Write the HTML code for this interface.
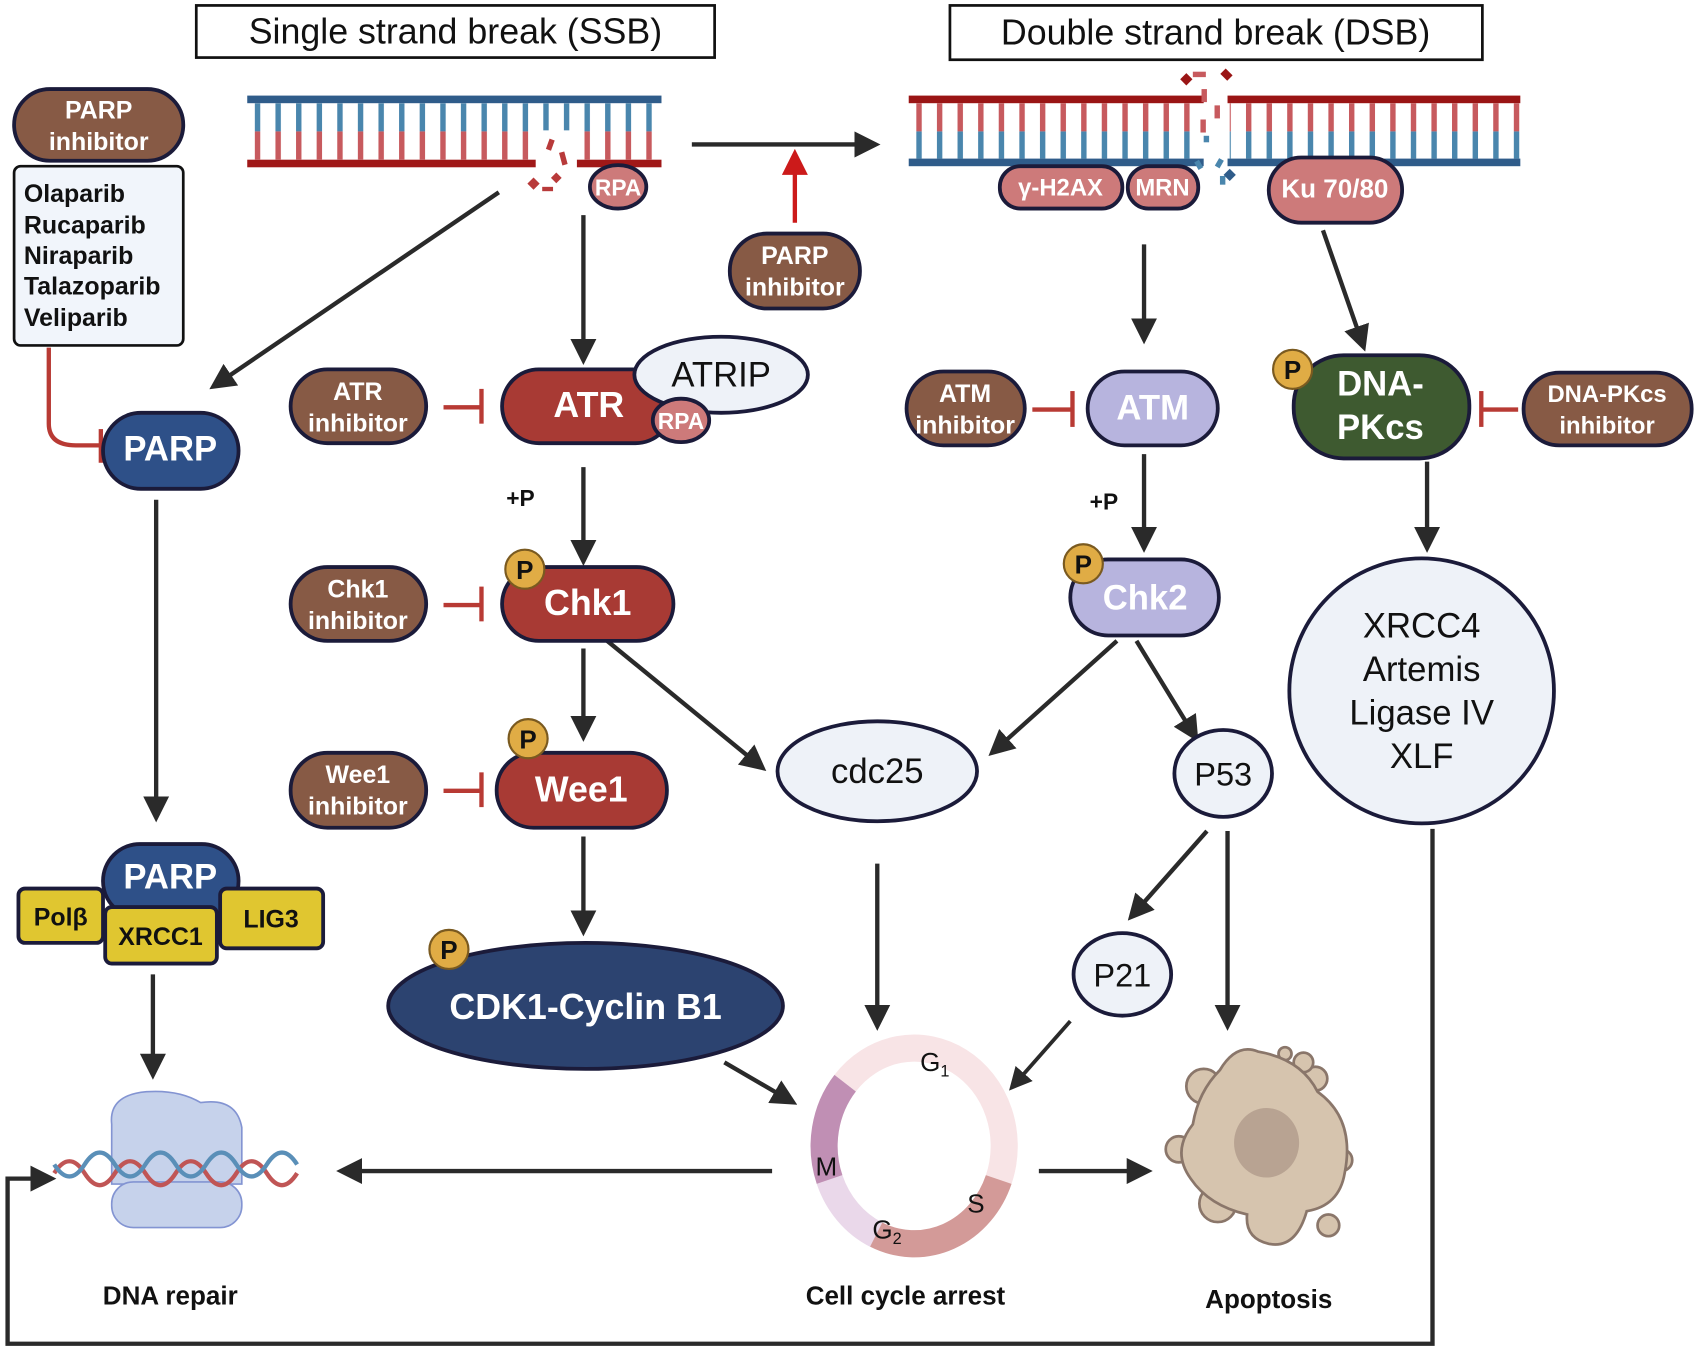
<!DOCTYPE html>
<html><head><meta charset="utf-8"><style>
html,body{margin:0;padding:0;background:#fff;}
svg{display:block;}
text{font-family:"Liberation Sans",sans-serif;}
.w{fill:#fff;font-weight:bold;text-anchor:middle;}
.b{fill:#111;font-weight:bold;text-anchor:middle;}
.n{fill:#111;text-anchor:middle;}
</style></head><body>
<svg width="1696" height="1347" viewBox="0 0 1564 1240" preserveAspectRatio="none" xmlns="http://www.w3.org/2000/svg">
<defs>
<marker id="ah" markerWidth="6" markerHeight="6" refX="4.5" refY="3" orient="auto" markerUnits="strokeWidth"><path d="M0,0 L6,3 L0,6 z" fill="#2a2a2a"/></marker>
<marker id="ahr" markerWidth="6" markerHeight="6" refX="4.5" refY="3" orient="auto" markerUnits="strokeWidth"><path d="M0,0 L6,3 L0,6 z" fill="#cc1a1a"/></marker>
<pattern id="rs" x="235" y="0" width="19" height="400" patternUnits="userSpaceOnUse"><rect x="0" y="95" width="5" height="26" fill="#4a86ad"/><rect x="0" y="121" width="5" height="26" fill="#c75a5e"/></pattern>
<pattern id="rd" x="845" y="0" width="19" height="400" patternUnits="userSpaceOnUse"><rect x="0" y="95" width="5" height="26" fill="#c75a5e"/><rect x="0" y="121" width="5" height="26" fill="#4a86ad"/></pattern>
</defs>
<g stroke="#2a2a2a" stroke-width="4" fill="none">
<line x1="638" y1="133" x2="806" y2="133" marker-end="url(#ah)"/>
<line x1="460" y1="177" x2="198" y2="355" marker-end="url(#ah)"/>
<line x1="538" y1="198" x2="538" y2="330" marker-end="url(#ah)"/>
<line x1="538" y1="430" x2="538" y2="515" marker-end="url(#ah)"/>
<line x1="538" y1="597" x2="538" y2="677" marker-end="url(#ah)"/>
<line x1="560" y1="590" x2="702" y2="706" marker-end="url(#ah)"/>
<line x1="538" y1="770" x2="538" y2="856" marker-end="url(#ah)"/>
<line x1="668" y1="978" x2="730" y2="1014" marker-end="url(#ah)"/>
<line x1="809" y1="795" x2="809" y2="943" marker-end="url(#ah)"/>
<line x1="712" y1="1078" x2="316" y2="1078" marker-end="url(#ah)"/>
<line x1="958" y1="1078" x2="1057" y2="1078" marker-end="url(#ah)"/>
<line x1="144" y1="460" x2="144" y2="751" marker-end="url(#ah)"/>
<line x1="141" y1="897" x2="141" y2="988" marker-end="url(#ah)"/>
<line x1="1055" y1="225" x2="1055" y2="311" marker-end="url(#ah)"/>
<line x1="1220" y1="212" x2="1257" y2="318" marker-end="url(#ah)"/>
<line x1="1055" y1="418" x2="1055" y2="503" marker-end="url(#ah)"/>
<line x1="1030" y1="590" x2="916" y2="692" marker-end="url(#ah)"/>
<line x1="1048" y1="590" x2="1102" y2="678" marker-end="url(#ah)"/>
<line x1="1113" y1="765" x2="1044" y2="843" marker-end="url(#ah)"/>
<line x1="1132" y1="765" x2="1132" y2="943" marker-end="url(#ah)"/>
<line x1="987" y1="940" x2="934" y2="1000" stroke-width="3.5" marker-end="url(#ah)"/>
<line x1="1316" y1="425" x2="1316" y2="503" marker-end="url(#ah)"/>
<polyline points="1321,763 1321,1237 7,1237 7,1085 46,1085" marker-end="url(#ah)"/>
</g>
<line x1="733" y1="205" x2="733" y2="143" stroke="#cc1a1a" stroke-width="4" marker-end="url(#ahr)"/>
<g stroke="#b83a34" stroke-width="4" fill="none">
<path d="M45,320 V390 Q45,410 70,410 H92"/><line x1="93" y1="395" x2="93" y2="426"/>
<line x1="409" y1="375" x2="443" y2="375"/><line x1="444" y1="358" x2="444" y2="390"/>
<line x1="409" y1="557" x2="443" y2="557"/><line x1="444" y1="540" x2="444" y2="572"/>
<line x1="409" y1="728" x2="443" y2="728"/><line x1="444" y1="711" x2="444" y2="743"/>
<line x1="952" y1="377" x2="988" y2="377"/><line x1="989" y1="360" x2="989" y2="393"/>
<line x1="1400" y1="377" x2="1367" y2="377"/><line x1="1366" y1="360" x2="1366" y2="393"/>
</g>
<rect x="181" y="5" width="478" height="48" fill="#fff" stroke="#111" stroke-width="2.5"/>
<text x="420" y="40" class="n" font-size="33">Single strand break (SSB)</text>
<rect x="876" y="5" width="491" height="50" fill="#fff" stroke="#111" stroke-width="2.5"/>
<text x="1121" y="41" class="n" font-size="33">Double strand break (DSB)</text>
<rect x="228" y="95" width="382" height="52" fill="url(#rs)"/>
<rect x="492" y="120" width="40" height="30" fill="#fff"/>
<rect x="228" y="88" width="382" height="7" fill="#2f5c8a"/>
<rect x="228" y="147" width="266" height="7" fill="#a01818"/><rect x="532" y="147" width="78" height="7" fill="#a01818"/>
<g fill="#b83a3a"><rect x="505" y="128" width="5" height="10" transform="rotate(20 507 133)"/><rect x="517" y="140" width="5" height="12" transform="rotate(-15 519 146)"/><rect x="488" y="165" width="8" height="8" transform="rotate(45 492 169)"/><rect x="510" y="160" width="7" height="7" transform="rotate(45 513 163)"/><rect x="500" y="172" width="10" height="4"/></g>
<rect x="838" y="95" width="564" height="51" fill="url(#rd)"/>
<rect x="1106" y="92" width="28" height="60" fill="#fff"/>
<rect x="838" y="88" width="272" height="7" fill="#9a1515"/><rect x="1132" y="88" width="270" height="7" fill="#9a1515"/>
<rect x="838" y="146" width="272" height="7" fill="#2f5c8a"/><rect x="1132" y="146" width="270" height="7" fill="#2f5c8a"/>
<g fill="#c75a5e"><rect x="1100" y="66" width="12" height="5"/><rect x="1108" y="82" width="5" height="12"/><rect x="1120" y="97" width="5" height="12"/><rect x="1107" y="110" width="5" height="12"/></g>
<g fill="#9a1515"><rect x="1090" y="69" width="8" height="8" transform="rotate(45 1094 73)"/><rect x="1127" y="65" width="9" height="7" transform="rotate(45 1131 68)"/></g>
<g fill="#4a86ad"><rect x="1110" y="125" width="5" height="6"/><rect x="1103" y="148" width="5" height="8" transform="rotate(-30 1105 152)"/><rect x="1122" y="146" width="5" height="8" transform="rotate(30 1124 150)"/><rect x="1125" y="162" width="5" height="8"/></g>
<rect x="1130" y="157" width="8" height="8" fill="#2f5c8a" transform="rotate(45 1134 161)"/>
<g stroke="#1b1b3a" stroke-width="3.5">
<rect x="13" y="82" width="156" height="66" rx="33" fill="#875a45"/>
<rect x="673" y="215" width="120" height="69" rx="34" fill="#875a45"/>
<rect x="268" y="340" width="125" height="68" rx="34" fill="#875a45"/>
<rect x="268" y="522" width="125" height="68" rx="34" fill="#875a45"/>
<rect x="268" y="693" width="125" height="69" rx="34" fill="#875a45"/>
<rect x="836" y="342" width="109" height="68" rx="34" fill="#875a45"/>
<rect x="1405" y="343" width="155" height="67" rx="33" fill="#875a45"/>
<rect x="95" y="380" width="125" height="70" rx="35" fill="#2e5088"/>
<rect x="463" y="340" width="157" height="68" rx="34" fill="#a83a34"/>
<ellipse cx="665" cy="345" rx="80" ry="35" fill="#eef2f8"/>
<ellipse cx="628" cy="387" rx="26" ry="20" fill="#cd7a7a"/>
<ellipse cx="570" cy="172" rx="26" ry="20" fill="#cd7a7a"/>
<rect x="463" y="522" width="158" height="68" rx="34" fill="#a83a34"/>
<rect x="458" y="693" width="157" height="69" rx="34" fill="#a83a34"/>
<ellipse cx="540" cy="926" rx="182" ry="58" fill="#2c4370"/>
<ellipse cx="809" cy="710" rx="92" ry="46" fill="#eef2f8"/>
<rect x="922" y="153" width="113" height="39" rx="19" fill="#cd7a7a"/>
<rect x="1040" y="153" width="65" height="39" rx="19" fill="#cd7a7a"/>
<rect x="1170" y="145" width="123" height="60" rx="30" fill="#cd7a7a"/>
<rect x="1003" y="342" width="120" height="68" rx="34" fill="#b7b4de"/>
<rect x="987" y="515" width="137" height="70" rx="35" fill="#b7b4de"/>
<ellipse cx="1128" cy="712" rx="45" ry="40" fill="#eef2f8"/>
<ellipse cx="1035" cy="897" rx="45" ry="38" fill="#eef2f8"/>
<rect x="1193" y="327" width="162" height="95" rx="46" fill="#3e5a30"/>
<circle cx="1311" cy="636" r="122" fill="#eef2f8"/>
<rect x="95" y="777" width="125" height="68" rx="34" fill="#2e5088"/>
<rect x="17" y="818" width="78" height="50" rx="6" fill="#e0c630"/>
<rect x="203" y="818" width="95" height="55" rx="6" fill="#e0c630"/>
<rect x="97" y="835" width="103" height="52" rx="6" fill="#e0c630"/>
</g>
<rect x="13" y="153" width="156" height="165" rx="6" fill="#f1f5fb" stroke="#111" stroke-width="2.5"/>
<g fill="#e0ac45" stroke="#7a5a20" stroke-width="2">
<circle cx="484" cy="524" r="18"/><circle cx="487" cy="680" r="18"/><circle cx="414" cy="874" r="18"/><circle cx="999" cy="519" r="18"/><circle cx="1192" cy="340" r="18"/>
</g>
<g font-size="24"><text x="484" y="533" class="b">P</text><text x="487" y="689" class="b">P</text><text x="414" y="883" class="b">P</text><text x="999" y="528" class="b">P</text><text x="1192" y="349" class="b">P</text></g>
<g font-size="23">
<text x="91" y="109" class="w">PARP</text><text x="91" y="138" class="w">inhibitor</text>
<text x="733" y="243" class="w">PARP</text><text x="733" y="272" class="w">inhibitor</text>
<text x="330" y="368" class="w">ATR</text><text x="330" y="397" class="w">inhibitor</text>
<text x="330" y="550" class="w">Chk1</text><text x="330" y="579" class="w">inhibitor</text>
<text x="330" y="721" class="w">Wee1</text><text x="330" y="750" class="w">inhibitor</text>
<text x="890" y="370" class="w">ATM</text><text x="890" y="399" class="w">inhibitor</text>
<text x="1482" y="370" class="w" font-size="22">DNA-PKcs</text><text x="1482" y="399" class="w" font-size="22">inhibitor</text>
</g>
<g font-size="23" font-weight="bold" fill="#111"><text x="22" y="186">Olaparib</text><text x="22" y="215">Rucaparib</text><text x="22" y="243">Niraparib</text><text x="22" y="271">Talazoparib</text><text x="22" y="300">Veliparib</text></g>
<text x="157" y="424" class="w" font-size="32">PARP</text>
<text x="157" y="818" class="w" font-size="32">PARP</text>
<text x="543" y="384" class="w" font-size="33">ATR</text>
<text x="665" y="356" class="n" font-size="32">ATRIP</text>
<text x="628" y="395" class="w" font-size="21">RPA</text>
<text x="570" y="180" class="w" font-size="21">RPA</text>
<text x="480" y="466" class="b" font-size="21">+P</text>
<text x="1018" y="469" class="b" font-size="21">+P</text>
<text x="542" y="566" class="w" font-size="33">Chk1</text>
<text x="536" y="738" class="w" font-size="33">Wee1</text>
<text x="540" y="938" class="w" font-size="33">CDK1-Cyclin B1</text>
<text x="809" y="721" class="n" font-size="32">cdc25</text>
<text x="978" y="180" class="w" font-size="22">γ-H2AX</text>
<text x="1072" y="180" class="w" font-size="22">MRN</text>
<text x="1231" y="182" class="w" font-size="24">Ku 70/80</text>
<text x="1063" y="386" class="w" font-size="32">ATM</text>
<text x="1056" y="561" class="w" font-size="32">Chk2</text>
<text x="1128" y="723" class="n" font-size="30">P53</text>
<text x="1035" y="908" class="n" font-size="30">P21</text>
<text x="1273" y="364" class="w" font-size="32">DNA-</text>
<text x="1273" y="404" class="w" font-size="32">PKcs</text>
<g class="n" font-size="32"><text x="1311" y="587">XRCC4</text><text x="1311" y="627">Artemis</text><text x="1311" y="667">Ligase IV</text><text x="1311" y="707">XLF</text></g>
<text x="56" y="852" class="b" font-size="23">Polβ</text>
<text x="148" y="870" class="b" font-size="23">XRCC1</text>
<text x="250" y="854" class="b" font-size="23">LIG3</text>
<g stroke="#7d8fd0" stroke-width="1.5" fill="#c3d0ea" opacity="0.95">
<path d="M103,1035 Q100,1008 135,1005 Q165,1003 185,1015 Q218,1010 223,1038 L223,1090 L103,1090 Z"/>
<rect x="103" y="1088" width="120" height="42" rx="20"/>
</g>
<path d="M50,1080 q14,-22 28,0 t28,0 t28,0 t28,0 t28,0 t28,0 t28,0 t28,0" stroke="#c05555" stroke-width="4" fill="none"/>
<path d="M50,1072 q14,22 28,0 t28,0 t28,0 t28,0 t28,0 t28,0 t28,0 t28,0" stroke="#5a8fb8" stroke-width="4" fill="none"/>
<g fill="none" stroke-width="25">
<path d="M779.4,997.1 A83,90 0 0 1 921,1085.8" stroke="#f8e4e6"/>
<path d="M921,1085.8 A83,90 0 0 1 807.9,1136.5" stroke="#d39a98"/>
<path d="M807.9,1136.5 A83,90 0 0 1 765,1085.8" stroke="#ead8ea"/>
<path d="M765,1085.8 A83,90 0 0 1 779.4,997.1" stroke="#c08fb4"/>
</g>
<text x="862" y="986" class="n" font-size="24">G<tspan font-size="15" dy="5">1</tspan></text>
<text x="900" y="1116" class="n" font-size="24">S</text>
<text x="818" y="1140" class="n" font-size="24">G<tspan font-size="15" dy="5">2</tspan></text>
<text x="762" y="1082" class="n" font-size="24">M</text>
<g stroke="#8a766a" stroke-width="2.5" fill="#d6c4ae">
<circle cx="1110" cy="1000" r="16"/><circle cx="1087" cy="1058" r="12"/><circle cx="1225" cy="1040" r="13"/><circle cx="1237" cy="1068" r="10"/><circle cx="1123" cy="1108" r="17"/><circle cx="1213" cy="993" r="11"/><circle cx="1225" cy="1128" r="10"/><circle cx="1185" cy="970" r="6"/><circle cx="1202" cy="978" r="9"/>
<path d="M1125,985 Q1140,960 1160,968 Q1200,975 1215,1005 Q1250,1030 1240,1080 Q1235,1110 1205,1115 Q1195,1150 1170,1145 Q1148,1140 1150,1118 Q1115,1110 1098,1085 Q1080,1060 1100,1035 Q1105,1005 1125,985 Z"/>
</g>
<ellipse cx="1168" cy="1052" rx="30" ry="32" fill="#b8a392"/>
<text x="157" y="1201" class="b" font-size="24">DNA repair</text>
<text x="835" y="1201" class="b" font-size="24">Cell cycle arrest</text>
<text x="1170" y="1204" class="b" font-size="24">Apoptosis</text>
</svg>
</body></html>
